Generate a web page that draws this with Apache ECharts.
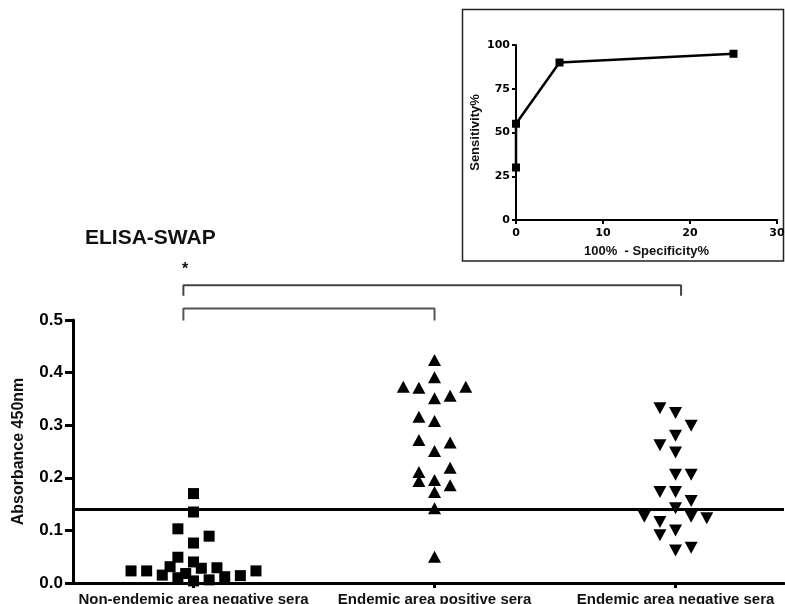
<!DOCTYPE html>
<html>
<head>
<meta charset="utf-8">
<script src="https://cdn.jsdelivr.net/npm/echarts@6/dist/echarts.min.js"></script>
<style>
html,body{margin:0;padding:0;background:#fff;}
#chart{width:785px;height:604px;}
</style>
</head>
<body>
<div id="chart"></div>
<script>
// ---------- data ----------
const categories = ['Non-endemic area negative sera', 'Endemic area positive sera', 'Endemic area negative sera'];
const yTickValues = [0, 0.1, 0.2, 0.3, 0.4, 0.5];

const nonEndemicNeg = [0.170, 0.135, 0.103, 0.089, 0.076, 0.049, 0.040, 0.031, 0.028, 0.029, 0.023, 0.023, 0.023, 0.014, 0.012, 0.015, 0.018, 0.004, 0.006, 0.010];
const nonEndemicNegCol = [0, 0, -2, 2, 0, -2, 0, -3, 1, 3, -8, -6, 8, 6, 4, -4, -1, 0, 2, -2];

const endemicPos = [0.424, 0.391, 0.373, 0.371, 0.373, 0.356, 0.351, 0.316, 0.308, 0.272, 0.267, 0.251, 0.211, 0.219, 0.196, 0.194, 0.186, 0.173, 0.142, 0.050];
const endemicPosCol = [0, 0, -4, -2, 4, 2, 0, -2, 0, -2, 2, 0, -2, 2, 0, -2, 2, 0, 0, 0];

const endemicNeg = [0.332, 0.323, 0.299, 0.280, 0.262, 0.248, 0.206, 0.206, 0.173, 0.173, 0.156, 0.142, 0.126, 0.116, 0.126, 0.123, 0.091, 0.100, 0.062, 0.067];
const endemicNegCol = [-2, 0, 2, 0, -2, 0, 0, 2, -2, 0, 2, 0, -4, -2, 2, 4, -2, 0, 0, 2];

const cutoff = 0.14;

// significance brackets: [xStart, xEnd, yTop, yBottomEnds]
const bracketLower = [0.958, 2.0, 0.522, 0.499];
const bracketUpper = [0.958, 3.023, 0.566, 0.546];

// ROC inset
const rocX = [0, 0, 5, 25];
const rocY = [30, 55, 90, 95];

// ---------- build ----------
const FONT = "'Liberation Sans', Arial, sans-serif";
const colStep = 0.0324;
function pts(vals, cols, idx) {
  return vals.map((v, i) => [idx + cols[i] * colStep, v]);
}
function bracket(b) {
  return [[b[0], b[3]], [b[0], b[2]], [b[1], b[2]], [b[1], b[3]]];
}

const chart = echarts.init(document.getElementById('chart'), null, {renderer: 'canvas'});
const option = {
  animation: false,
  backgroundColor: '#fff',
  grid: [
    {left: 73, right: 1, top: 320, bottom: 21, containLabel: false, outerBoundsMode: 'none'},
    {left: 516, top: 45, width: 261, height: 175, containLabel: false, outerBoundsMode: 'none'}
  ],
  xAxis: [
    {
      type: 'value', gridIndex: 0, min: 0.5, max: 3.45,
      splitLine: {show: false},
      axisLine: {show: true, onZero: false, lineStyle: {color: '#000', width: 3}},
      axisTick: {show: true, customValues: [1, 2, 3], length: 5, lineStyle: {color: '#000', width: 3}},
      axisLabel: {
        customValues: [1, 2, 3],
        formatter: v => categories[Math.round(v) - 1] || '',
        fontFamily: FONT, fontWeight: 'bold', fontSize: 15, color: '#111', margin: 9
      }
    },
    {
      type: 'value', gridIndex: 1, min: 0, max: 30, interval: 10,
      splitLine: {show: false},
      axisLine: {show: true, onZero: false, lineStyle: {color: '#000', width: 2}},
      axisTick: {show: true, length: 4, lineStyle: {color: '#000', width: 2}},
      axisLabel: {fontFamily: "'DejaVu Sans', sans-serif", fontWeight: 'bold', fontSize: 11, color: '#000', margin: 8},
      name: '100%  - Specificity%', nameLocation: 'middle', nameGap: 25,
      nameTextStyle: {fontFamily: FONT, fontWeight: 'bold', fontSize: 13, color: '#111'}
    }
  ],
  yAxis: [
    {
      type: 'value', gridIndex: 0, min: 0, max: 0.5, interval: 0.1,
      splitLine: {show: false},
      axisLine: {show: true, onZero: false, lineStyle: {color: '#000', width: 3}},
      axisTick: {show: true, length: 8, lineStyle: {color: '#000', width: 3}},
      axisLabel: {formatter: v => v.toFixed(1), fontFamily: FONT, fontWeight: 'bold', fontSize: 17, color: '#000', margin: 10},
      name: 'Absorbance 450nm', nameLocation: 'middle', nameGap: 46,
      nameTextStyle: {fontFamily: FONT, fontWeight: 'bold', fontSize: 16, color: '#111'}
    },
    {
      type: 'value', gridIndex: 1, min: 0, max: 100, interval: 25,
      splitLine: {show: false},
      axisLine: {show: true, onZero: false, lineStyle: {color: '#000', width: 2}},
      axisTick: {show: true, length: 4, lineStyle: {color: '#000', width: 2}},
      axisLabel: {fontFamily: "'DejaVu Sans', sans-serif", fontWeight: 'bold', fontSize: 11, color: '#000', margin: 6},
      name: 'Sensitivity%', nameLocation: 'middle', nameGap: 34,
      nameTextStyle: {fontFamily: FONT, fontWeight: 'bold', fontSize: 13, color: '#111'}
    }
  ],
  series: [
    {
      type: 'scatter', xAxisIndex: 0, yAxisIndex: 0,
      symbol: 'rect', symbolSize: 11,
      itemStyle: {color: '#000', opacity: 1},
      data: pts(nonEndemicNeg, nonEndemicNegCol, 1),
      markLine: {
        silent: true, symbol: 'none', label: {show: false},
        lineStyle: {color: '#000', width: 3, type: 'solid', opacity: 1},
        data: [{yAxis: cutoff}]
      }
    },
    {
      type: 'scatter', xAxisIndex: 0, yAxisIndex: 0,
      symbol: 'triangle', symbolSize: [13, 12],
      itemStyle: {color: '#000', opacity: 1},
      data: pts(endemicPos, endemicPosCol, 2)
    },
    {
      type: 'scatter', xAxisIndex: 0, yAxisIndex: 0,
      symbol: 'triangle', symbolRotate: 180, symbolSize: [13, 12],
      itemStyle: {color: '#000', opacity: 1},
      data: pts(endemicNeg, endemicNegCol, 3)
    },
    {
      type: 'line', xAxisIndex: 0, yAxisIndex: 0, clip: false,
      symbol: 'none', lineStyle: {color: '#555', width: 2},
      data: bracket(bracketLower)
    },
    {
      type: 'line', xAxisIndex: 0, yAxisIndex: 0, clip: false,
      symbol: 'none', lineStyle: {color: '#444', width: 2},
      data: bracket(bracketUpper)
    },
    {
      type: 'line', xAxisIndex: 1, yAxisIndex: 1,
      symbol: 'rect', symbolSize: 8,
      lineStyle: {color: '#000', width: 2.5},
      itemStyle: {color: '#000', opacity: 1},
      data: rocX.map((x, i) => [x, rocY[i]])
    }
  ],
  graphic: [
    {
      type: 'rect', z: 0, silent: true,
      shape: {x: 462.5, y: 9.5, width: 321, height: 251.5},
      style: {fill: 'none', stroke: '#222', lineWidth: 1.5}
    },
    {
      type: 'text', left: 85, top: 228,
      style: {text: 'ELISA-SWAP', font: "bold 21px 'Liberation Sans', Arial, sans-serif", fill: '#111'}
    },
    {
      type: 'text', x: 185, y: 270,
      style: {text: '*', font: "bold 16px 'Liberation Sans', Arial, sans-serif", fill: '#111', textAlign: 'center', textVerticalAlign: 'middle'}
    }
  ]
};
chart.setOption(option);
</script>
</body>
</html>
